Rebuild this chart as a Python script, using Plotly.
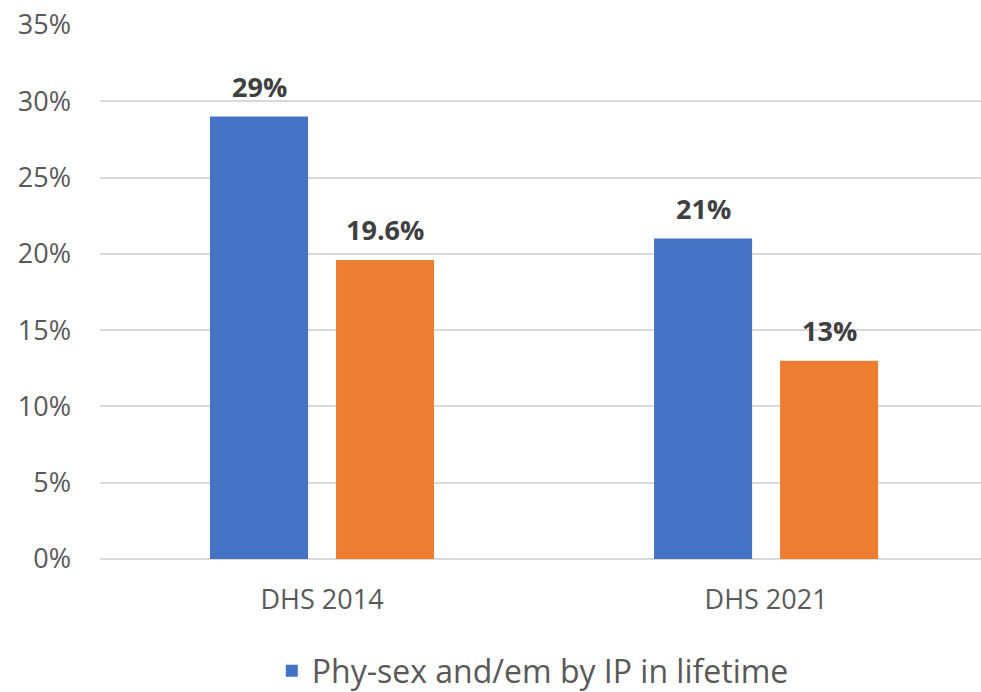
import plotly.graph_objects as go

categories = ["DHS 2014", "DHS 2021"]
series_names = ["Phy-sex and/em by IP in lifetime", "Phy-sex and/em by IP in last 12 months"]
lifetime = [29, 21]
recent = [19.6, 13]
label_lifetime = ["29%", "21%"]
label_recent = ["19.6%", "13%"]
colors = ["#4472C4", "#ED7D31"]
y_ticks = [0, 5, 10, 15, 20, 25, 30, 35]
y_tick_labels = [f"{v}%" for v in y_ticks]

FONT = "Open Sans"
BARGAP = 0.4324
GROUPGAP = 0.222

fig = go.Figure()
fig.add_trace(go.Bar(x=categories, y=lifetime, name=series_names[0],
                     marker=dict(color=colors[0], line=dict(width=0))))
fig.add_trace(go.Bar(x=categories, y=recent, name=series_names[1], showlegend=False,
                     marker=dict(color=colors[1], line=dict(width=0))))

# value labels above bars, positioned from the grouped-bar layout
slot = (1 - BARGAP) / 2
for vals, labels, off in [(lifetime, label_lifetime, -slot / 2), (recent, label_recent, slot / 2)]:
    for i, (v, t) in enumerate(zip(vals, labels)):
        fig.add_annotation(x=i + off, y=v, xref="x", yref="y", text=f"<b>{t}</b>",
                           showarrow=False, yanchor="bottom", yshift=10,
                           font=dict(family=FONT, size=27, color="#404040"))

fig.update_layout(
    width=981, height=692,
    margin=dict(l=100, r=0, t=25, b=133, autoexpand=False),
    paper_bgcolor="white", plot_bgcolor="white",
    barmode="group", bargap=BARGAP, bargroupgap=GROUPGAP,
    font=dict(family=FONT, color="#595959"),
    showlegend=True,
    legend=dict(orientation="h", x=0.195, xanchor="left", y=-0.158, yanchor="top",
                font=dict(family=FONT, size=32, color="#595959"),
                bgcolor="rgba(0,0,0,0)"),
    xaxis=dict(range=[-0.5, 1.484], showgrid=False, zeroline=False, showline=False,
               ticks="", tickfont=dict(family=FONT, size=27, color="#595959"),
               ticklabelstandoff=22, automargin=False),
    yaxis=dict(range=[0, 35], tickvals=y_ticks, ticktext=y_tick_labels,
               showgrid=True, gridcolor="#D9D9D9", gridwidth=2,
               zeroline=True, zerolinecolor="#D9D9D9", zerolinewidth=2,
               showline=False, ticks="", ticklabelstandoff=28, automargin=False,
               tickfont=dict(family=FONT, size=27, color="#595959")),
)

fig.write_html("out.html", config={"displayModeBar": False},
               post_script="document.body.style.margin='0';document.body.style.overflow='hidden';")
